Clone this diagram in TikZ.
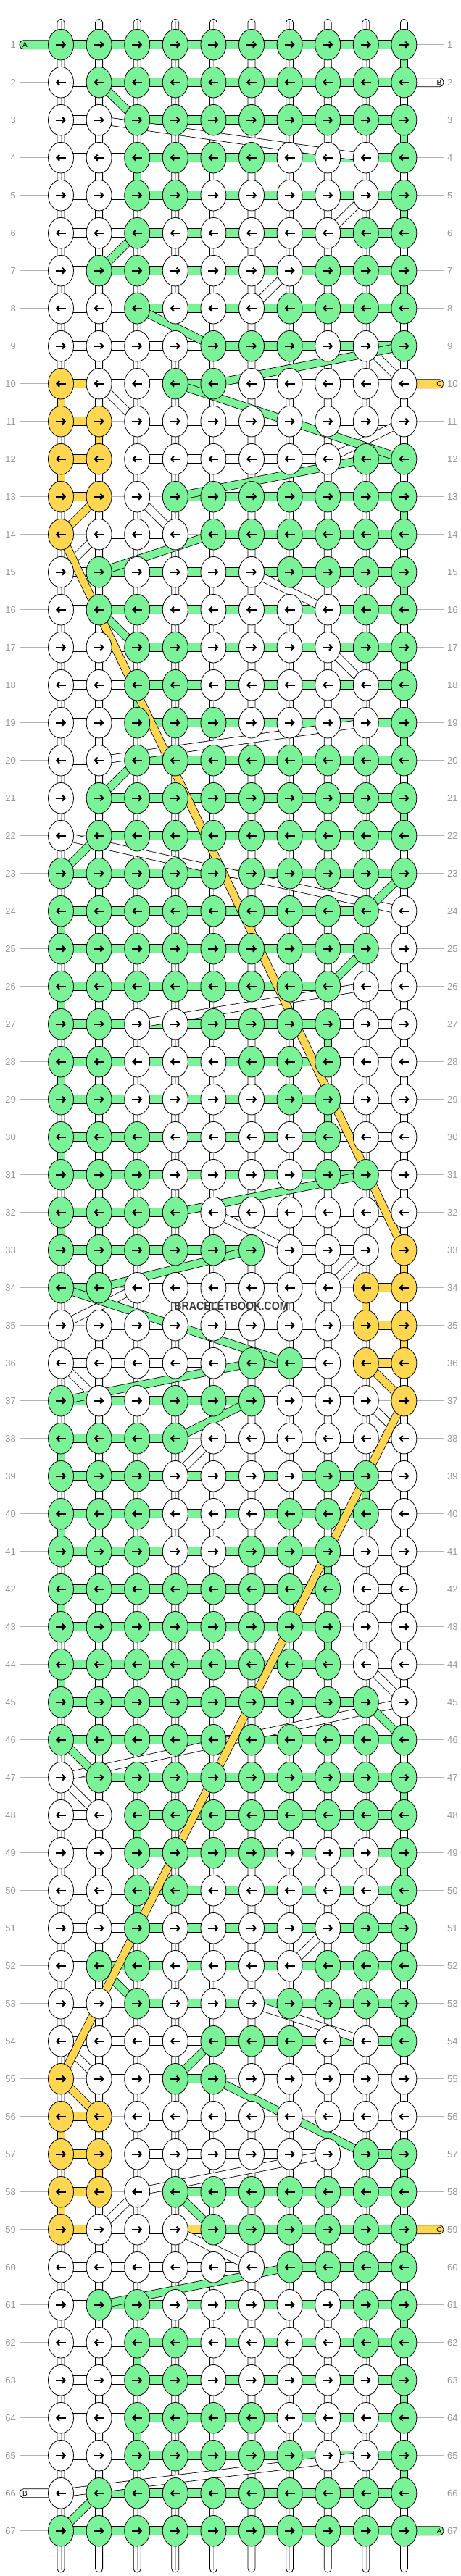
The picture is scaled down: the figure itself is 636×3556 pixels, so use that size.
\documentclass[tikz,border=0pt]{standalone}
\usepackage{fontspec}
\setmainfont{Liberation Sans}
\usetikzlibrary{shapes.geometric}
\usetikzlibrary{arrows.meta}
\definecolor{colG}{RGB}{122,242,152}
\definecolor{colW}{RGB}{255,255,255}
\definecolor{colY}{RGB}{255,214,79}
\definecolor{rowgray}{RGB}{178,178,178}
\definecolor{numgray}{RGB}{150,150,150}
\tikzstyle{knot} = [ellipse, draw, line width=0.8pt,
    minimum width=35pt, minimum height=42.6pt, inner sep=0pt]
\tikzstyle{arr} = [line width=2.2pt, -{Straight Barb[length=3.6pt,width=8pt]}]
\tikzstyle{bar} = [draw, line width=0.8pt]
\tikzstyle{band} = [line width=0.8pt, double distance=10pt]
\tikzstyle{rownum} = [text=numgray, font=\fontsize{13}{13}\selectfont, inner sep=0pt]
\tikzstyle{endtag} = [font=\fontsize{10}{10}\selectfont, inner sep=0pt]
\pgfdeclarelayer{rows}
\pgfdeclarelayer{strands}
\pgfdeclarelayer{stubs}
\pgfdeclarelayer{bands}
\pgfsetlayers{rows,strands,stubs,bands,main}

\begin{document}
\begin{tikzpicture}[x=1pt,y=-1pt]
    \useasboundingbox (0,0) rectangle (636,3556);

    \foreach \r/\kn/\br in {
      1/{G,G,G,G,G,G,G,G,G,G}/{G,G,G,G,G,G,G,G,G},
      2/{W,G,G,G,G,G,G,G,G,G}/{W,G,G,G,G,G,G,G,G},
      3/{W,W,G,G,G,G,G,G,G,G}/{W,N,G,G,G,G,G,G,G},
      4/{W,W,G,G,G,G,W,W,W,G}/{W,W,G,G,G,G,G,G,G},
      5/{W,W,G,G,W,W,W,W,W,G}/{W,W,G,G,G,G,G,G,G},
      6/{W,W,G,W,W,W,W,W,G,G}/{W,W,G,G,G,G,G,G,G},
      7/{W,G,G,W,W,W,W,G,G,G}/{W,G,G,G,G,G,G,G,G},
      8/{W,W,G,W,W,W,G,G,G,G}/{W,W,G,G,G,G,G,G,G},
      9/{W,W,W,W,G,G,G,W,W,G}/{W,W,W,W,G,G,G,G,G},
      10/{Y,W,W,G,G,W,W,W,W,W}/{Y,W,W,G,N,W,W,W,W},
      11/{Y,Y,W,W,W,W,W,W,W,W}/{Y,N,W,W,W,W,W,W,W},
      12/{Y,Y,W,W,W,W,W,W,G,G}/{Y,N,W,W,W,W,W,N,G},
      13/{Y,Y,W,G,G,G,G,G,G,G}/{Y,N,N,G,G,G,G,G,G},
      14/{Y,W,W,W,G,G,G,G,G,G}/{N,W,W,N,G,G,G,G,G},
      15/{W,G,W,W,W,W,G,G,G,G}/{W,G,G,G,G,G,G,G,G},
      16/{W,G,G,W,W,W,W,W,G,G}/{W,G,G,G,G,G,G,G,G},
      17/{W,W,G,G,W,W,W,W,G,G}/{W,W,G,G,G,G,G,G,G},
      18/{W,W,G,G,W,W,W,W,W,G}/{W,W,G,G,G,G,G,G,G},
      19/{W,W,G,G,G,W,W,W,W,G}/{W,W,G,G,G,G,G,G,G},
      20/{W,W,G,G,G,G,G,G,G,G}/{W,N,G,G,G,G,G,G,G},
      21/{W,G,G,G,G,G,G,G,G,G}/{N,G,G,G,G,G,G,G,G},
      22/{W,G,G,G,G,G,G,G,G,G}/{N,G,G,G,G,G,G,G,G},
      23/{G,G,G,G,G,G,G,G,G,G}/{G,G,G,G,G,G,G,G,G},
      24/{G,G,G,G,G,G,G,G,G,W}/{G,G,G,G,G,G,G,G,N},
      25/{G,G,G,G,G,G,G,G,G,W}/{G,G,G,G,G,G,G,G,N},
      26/{G,G,G,G,G,G,G,G,W,W}/{G,G,G,G,G,G,G,N,W},
      27/{G,G,W,W,G,G,G,G,W,W}/{G,G,G,G,G,G,G,W,W},
      28/{G,G,W,W,W,G,G,G,W,W}/{G,G,G,G,G,G,G,W,W},
      29/{G,G,W,W,W,W,G,G,W,W}/{G,G,G,G,G,G,G,W,W},
      30/{G,G,G,W,W,W,W,G,W,W}/{G,G,G,G,G,G,G,W,W},
      31/{G,G,G,W,W,W,W,G,G,W}/{G,G,G,G,G,G,G,G,W},
      32/{G,G,G,G,W,W,W,W,W,W}/{G,G,G,N,W,W,W,W,W},
      33/{G,G,G,G,G,G,W,W,W,Y}/{G,G,G,G,G,N,W,W,N},
      34/{G,G,W,W,W,W,W,W,Y,Y}/{G,N,W,W,W,W,W,N,Y},
      35/{W,W,W,W,W,W,W,W,Y,Y}/{N,W,W,W,W,W,W,N,Y},
      36/{W,W,W,W,W,G,G,W,Y,Y}/{W,W,W,W,N,G,W,N,Y},
      37/{G,W,W,G,G,G,W,W,W,Y}/{G,G,G,G,G,W,W,W,N},
      38/{G,G,G,G,W,W,W,W,W,W}/{G,G,G,N,W,W,W,W,W},
      39/{G,G,G,W,W,W,W,G,G,W}/{G,G,G,G,G,G,G,G,W},
      40/{G,G,G,W,W,W,G,G,G,W}/{G,G,G,G,G,G,G,G,W},
      41/{G,G,G,W,W,G,G,G,W,W}/{G,G,G,G,G,G,G,W,W},
      42/{G,G,G,G,G,G,G,G,W,W}/{G,G,G,G,G,G,G,N,W},
      43/{G,G,G,G,G,G,G,G,W,W}/{G,G,G,G,G,G,G,N,W},
      44/{G,G,G,G,G,G,G,G,W,W}/{G,G,G,G,G,G,G,N,W},
      45/{G,G,G,G,G,G,G,G,G,W}/{G,G,G,G,G,G,G,G,N},
      46/{G,G,G,G,G,G,G,G,G,G}/{G,G,G,G,G,G,G,G,G},
      47/{W,G,G,G,G,G,G,G,G,G}/{N,G,G,G,G,G,G,G,G},
      48/{W,W,G,G,G,G,G,G,G,G}/{W,N,G,G,G,G,G,G,G},
      49/{W,W,G,G,G,G,W,W,W,G}/{W,W,G,G,G,G,G,G,G},
      50/{W,W,G,G,W,W,W,W,W,G}/{W,W,G,G,G,G,G,G,G},
      51/{W,W,G,W,W,W,W,W,G,G}/{W,W,G,G,G,G,G,G,G},
      52/{W,G,G,W,W,W,W,G,G,G}/{W,G,G,G,G,G,G,G,G},
      53/{W,W,G,W,W,W,G,G,G,G}/{W,W,G,G,G,G,G,G,G},
      54/{W,W,W,W,G,G,G,W,W,G}/{W,W,W,W,G,G,G,G,G},
      55/{Y,W,W,G,G,W,W,W,W,W}/{N,W,W,G,N,W,W,W,W},
      56/{Y,Y,W,W,W,W,W,W,W,W}/{Y,N,W,W,W,N,N,W,W},
      57/{Y,Y,W,W,W,W,W,W,G,G}/{Y,N,W,W,W,W,W,N,G},
      58/{Y,Y,W,G,G,G,G,G,G,G}/{Y,N,N,G,G,G,G,G,G},
      59/{Y,W,W,W,G,G,G,G,G,G}/{Y,W,W,Y,G,G,G,G,G},
      60/{W,W,W,W,W,W,G,G,G,G}/{W,W,W,W,W,N,G,G,G},
      61/{W,G,G,W,W,W,W,W,G,G}/{W,G,G,G,G,G,G,G,G},
      62/{W,W,G,G,W,W,W,W,G,G}/{W,W,G,G,G,G,G,G,G},
      63/{W,W,G,G,W,W,W,W,W,G}/{W,W,G,G,G,G,G,G,G},
      64/{W,W,G,G,G,G,W,W,W,G}/{W,W,G,G,G,G,G,G,G},
      65/{W,W,G,G,G,G,G,W,W,G}/{W,W,G,G,G,G,G,G,G},
      66/{W,G,G,G,G,G,G,G,G,G}/{N,G,G,G,G,G,G,G,G},
      67/{G,G,G,G,G,G,G,G,G,G}/{G,G,G,G,G,G,G,G,G}}{
      \pgfmathsetmacro\yy{61.7+52*(\r-1)}
      \foreach \k [count=\c] in \kn {
        \node[knot, fill=col\k] (k-\r-\c) at ({84+52.6*(\c-1)},\yy) {};
        \ifodd\r
          \draw[arr] ([xshift=-7pt]k-\r-\c.center) -- ([xshift=7pt]k-\r-\c.center);
        \else
          \draw[arr] ([xshift=7pt]k-\r-\c.center) -- ([xshift=-7pt]k-\r-\c.center);
        \fi
      }
      \begin{pgfonlayer}{stubs}
        \foreach \b [count=\c] in \br {
          \pgfmathtruncatemacro\cn{\c+1}
          \if N\b\else
            \filldraw[bar, fill=col\b] ([yshift=6pt]k-\r-\c.center) rectangle ([yshift=-6pt]k-\r-\cn.center);
          \fi
        }
      \end{pgfonlayer}
      \node[rownum, anchor=east] (numL-\r) at (22,\yy) {\r};
      \node[rownum, anchor=west] (numR-\r) at (617,\yy) {\r};
      \begin{pgfonlayer}{rows}
        \draw[rowgray, line width=0.8pt] (numL-\r.east) ++(4.5,0) coordinate (lineL-\r)
          (numR-\r.west) ++(-4.3,0) coordinate (lineR-\r);
        \draw[rowgray, line width=0.8pt] (lineL-\r) -- (lineR-\r);
      \end{pgfonlayer}
    }

    % vertical strings
    \begin{pgfonlayer}{strands}
      \foreach \c in {1,...,10}{
        \coordinate (top-\c) at ([yshift=35.4pt]k-1-\c.center);
        \coordinate (bot-\c) at ([yshift=-57.3pt]k-67-\c.center);
        \filldraw[fill=white, line width=0.8pt, rounded corners=5pt]
          ([xshift=-5pt]top-\c) rectangle ([xshift=5pt]bot-\c);
        \draw[rowgray, line width=0.6pt] ([yshift=-3pt]top-\c) -- ([yshift=3pt]bot-\c);
      }
    \end{pgfonlayer}

    \begin{pgfonlayer}{stubs}
      \foreach \r/\c/\s in {1/10/G, 3/10/G, 4/3/G, 5/10/G, 7/10/G, 13/10/G, 15/10/G,
          17/10/G, 18/3/G, 19/10/G, 21/10/G, 24/1/G, 26/1/G, 27/8/G, 28/1/G, 29/8/G,
          30/1/G, 32/1/G, 38/1/G, 39/9/G, 40/1/G, 41/8/G, 42/1/G, 43/8/G, 44/1/G,
          47/10/G, 48/3/G, 49/10/G, 50/3/G, 51/10/G, 53/10/G, 57/10/G, 59/10/G,
          61/10/G, 62/3/G, 63/10/G, 64/3/G, 65/10/G,
          10/1/Y, 11/2/Y, 12/1/Y, 33/10/Y, 34/9/Y, 35/10/Y, 56/1/Y, 57/2/Y, 58/1/Y}{
        \pgfmathtruncatemacro\rn{\r+1}
        \filldraw[bar, fill=col\s] ([xshift=-5pt]k-\r-\c.center) rectangle ([xshift=5pt]k-\rn-\c.center);
      }
      % loose ends
      \coordinate (endA1) at ([xshift=-57pt]k-1-1.center);
      \coordinate (endB66) at ([xshift=-57pt]k-66-1.center);
      \coordinate (endB2) at ([xshift=54.6pt]k-2-10.center);
      \coordinate (endC10) at ([xshift=54.6pt]k-10-10.center);
      \coordinate (endC59) at ([xshift=54.6pt]k-59-10.center);
      \coordinate (endA67) at ([xshift=54.6pt]k-67-10.center);
      \filldraw[bar, fill=colG, rounded corners=5.5pt] ([yshift=6pt]endA1) rectangle ([yshift=-6pt]k-1-1.center);
      \filldraw[bar, fill=colW, rounded corners=5.5pt] ([yshift=6pt]endB66) rectangle ([yshift=-6pt]k-66-1.center);
      \filldraw[bar, fill=colW, rounded corners=5.5pt] ([yshift=6pt]k-2-10.center) rectangle ([yshift=-6pt]endB2);
      \filldraw[bar, fill=colY, rounded corners=5.5pt] ([yshift=6pt]k-10-10.center) rectangle ([yshift=-6pt]endC10);
      \filldraw[bar, fill=colY, rounded corners=5.5pt] ([yshift=6pt]k-59-10.center) rectangle ([yshift=-6pt]endC59);
      \filldraw[bar, fill=colG, rounded corners=5.5pt] ([yshift=6pt]k-67-10.center) rectangle ([yshift=-6pt]endA67);
    \end{pgfonlayer}
    \node[endtag] (tagA1) at ([xshift=7.5pt]endA1) {A};
    \node[endtag] (tagB66) at ([xshift=7.5pt]endB66) {B};
    \node[endtag] (tagB2) at ([xshift=-6pt]endB2) {B};
    \node[endtag] (tagC10) at ([xshift=-6pt]endC10) {C};
    \node[endtag] (tagC59) at ([xshift=-6pt]endC59) {C};
    \node[endtag] (tagA67) at ([xshift=-6pt]endA67) {A};

    % strings moving between rows
    \begin{pgfonlayer}{bands}
      \foreach \ra/\ca/\rb/\cb in {3/2/4/9, 5/9/6/8, 7/7/8/6, 9/9/10/10, 10/2/11/3,
          11/10/12/8, 13/3/14/4, 14/2/15/1, 15/6/16/8, 17/8/18/9, 19/9/20/2, 22/1/24/10,
          26/9/27/3, 32/5/33/7, 33/9/34/8, 34/3/35/1, 36/1/37/2, 37/9/38/10, 38/5/39/4,
          44/9/45/10, 45/10/47/1, 47/1/48/2, 51/8/52/7, 53/6/54/9, 54/1/55/2, 57/8/58/3,
          58/3/59/2, 59/4/60/6, 65/9/66/1}
        \draw[band, double=colW] (k-\ra-\ca.center) -- (k-\rb-\cb.center);
      \foreach \ra/\ca/\rb/\cb in {2/2/3/3, 6/3/7/2, 8/3/9/5, 9/10/10/5, 10/4/12/10,
          12/9/13/4, 14/5/15/2, 16/2/17/3, 20/3/21/2, 22/2/23/1, 23/10/24/9, 25/9/26/8,
          31/9/32/4, 33/6/34/2, 34/1/36/7, 36/6/37/1, 37/6/38/4, 45/9/46/10, 46/1/47/2,
          52/2/53/3, 54/5/55/4, 55/5/57/9, 58/4/59/5, 60/7/61/2, 66/2/67/1}
        \draw[band, double=colG] (k-\ra-\ca.center) -- (k-\rb-\cb.center);
      \foreach \ra/\ca/\rb/\cb in {13/2/14/1, 14/1/33/10, 36/9/37/10, 37/10/55/1, 55/1/56/2}
        \draw[band, double=colY] (k-\ra-\ca.center) -- (k-\rb-\cb.center);
    \end{pgfonlayer}

    \node[font=\fontsize{16}{16}\selectfont\bfseries, text=black!78, xscale=0.89] (mark) at (319,1803) {BRACELETBOOK.COM};
\end{tikzpicture}
\end{document}
